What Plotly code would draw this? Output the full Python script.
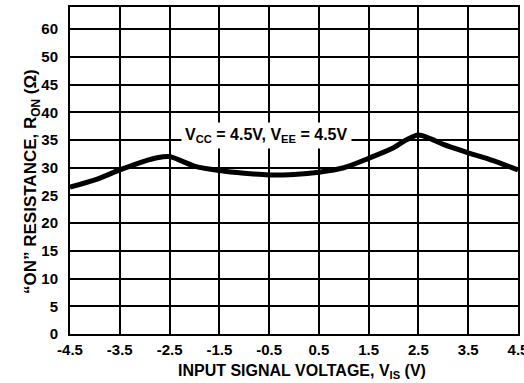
import plotly.graph_objects as go

# Data
vis = [-4.5, -4.0, -3.5, -3.0, -2.75, -2.5, -2.25, -2.0, -1.5, -1.0, -0.5, 0.0,
       0.5, 1.0, 1.5, 2.0, 2.25, 2.5, 2.75, 3.0, 3.5, 4.0, 4.5]
ron = [26.5, 27.8, 29.6, 31.2, 31.8, 32.0, 31.2, 30.3, 29.5, 29.0, 28.7, 28.8,
       29.2, 30.0, 31.7, 33.6, 35.0, 35.9, 35.2, 34.2, 32.7, 31.3, 29.6]

x_ticks = [-4.5, -3.5, -2.5, -1.5, -0.5, 0.5, 1.5, 2.5, 3.5, 4.5]
x_ticktext = ["-4.5", "-3.5", "-2.5", "-1.5", "-0.5", "0.5", "1.5", "2.5", "3.5", "4.5"]
y_ticks = [0, 5, 10, 15, 20, 25, 30, 35, 40, 45, 50, 55]
y_ticktext = ["0", "5", "10", "15", "20", "25", "30", "35", "40", "45", "50", "60"]

FONT = "Liberation Sans"
L, R, T, B = 70, 6, 7, 49
W, H = 524, 383
pw, ph = W - L - R, H - T - B


def px_x(px):
    return (px - L) / pw


def px_y(py):
    return (H - B - py) / ph


fig = go.Figure()
fig.add_trace(go.Scatter(
    x=vis, y=ron, mode="lines",
    line=dict(color="black", width=5, shape="spline", smoothing=0.8),
    hoverinfo="skip", showlegend=False,
))

axis_common = dict(
    showgrid=True, gridcolor="black", gridwidth=1.5,
    showline=True, linecolor="black", linewidth=2, mirror=True,
    tickcolor="rgba(0,0,0,0)", ticks="outside",
    zeroline=False, automargin=False, ticklabeloverflow="allow",
    tickfont=dict(family=FONT, size=15, color="black", weight="bold"),
)

fig.update_layout(
    template="none",
    width=W, height=H,
    margin=dict(l=L, r=R, t=T, b=B, autoexpand=False),
    paper_bgcolor="white", plot_bgcolor="white",
    font=dict(family=FONT, size=15, color="black"),
    xaxis=dict(range=[-4.5, 4.5], tickvals=x_ticks, ticktext=x_ticktext,
               ticklen=1, **axis_common),
    yaxis=dict(range=[0, 59], tickvals=y_ticks, ticktext=y_ticktext,
               ticklen=7, **axis_common),
    annotations=[
        dict(
            x=-0.56, y=35.9, xref="x", yref="y",
            text="V<sub>CC</sub> = 4.5V, V<sub>EE</sub> = 4.5V",
            showarrow=False, bgcolor="white", borderpad=3,
            font=dict(family=FONT, size=16, color="black", weight="bold"),
        ),
        dict(
            x=px_x(302), y=px_y(383), xref="paper", yref="paper",
            yanchor="bottom",
            text="INPUT SIGNAL VOLTAGE, V<sub>IS</sub> (V)",
            showarrow=False,
            font=dict(family=FONT, size=16, color="black", weight="bold"),
        ),
        dict(
            x=px_x(19), y=px_y(182), xref="paper", yref="paper",
            text="“ON” RESISTANCE, R<sub>ON</sub> (Ω)",
            textangle=-90, showarrow=False,
            font=dict(family=FONT, size=17, color="black", weight="bold"),
        ),
    ],
)

fig.write_html("out.html", config={"displayModeBar": False},
               post_script="document.body.style.margin='0';")
